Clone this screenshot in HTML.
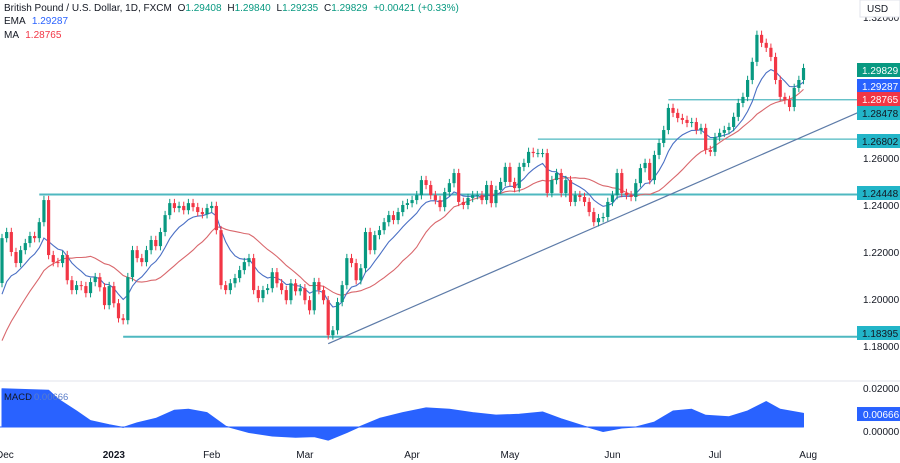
<!DOCTYPE html>
<html><head><meta charset="utf-8">
<style>
html,body{margin:0;padding:0;background:#fff;width:900px;height:463px;overflow:hidden;font-family:"Liberation Sans",sans-serif;}
svg{display:block}
text{font-family:"Liberation Sans",sans-serif}
</style></head>
<body>
<svg id="chart" width="900" height="463" viewBox="0 0 900 463" xmlns="http://www.w3.org/2000/svg">
  <g id="price-pane"></g>
  <g id="macd-pane"></g>
  <g id="axes"></g>
  <g id="legend">
    <text x="4" y="11" font-size="10" fill="#131722">British Pound / U.S. Dollar, 1D, FXCM <tspan dx="3" fill="#131722">O</tspan><tspan fill="#089981">1.29408</tspan> <tspan dx="3" fill="#131722">H</tspan><tspan fill="#089981">1.29840</tspan> <tspan dx="3" fill="#131722">L</tspan><tspan fill="#089981">1.29235</tspan> <tspan dx="3" fill="#131722">C</tspan><tspan fill="#089981">1.29829</tspan> <tspan dx="3" fill="#089981">+0.00421 (+0.33%)</tspan></text>
    <text x="4" y="24" font-size="10" fill="#131722">EMA <tspan fill="#2962ff" dx="4">1.29287</tspan></text>
    <text x="4" y="38" font-size="10" fill="#131722">MA <tspan fill="#f23645" dx="4">1.28765</tspan></text>
  </g>
</svg>
<script>
// ---- data ----
const priorCloses = [1.135,1.140,1.145,1.150,1.155,1.160,1.165,1.170,1.175,1.180,1.185,1.190,1.195,1.200,1.200,1.205,1.200,1.205,1.200,1.200];
const firstOpen = 1.2068;
const closes = [
1.2259,1.2285,1.2200,1.2153,1.2208,1.2238,1.2268,1.2259,1.2327,1.2421,
1.2187,1.2157,1.2153,1.2187,1.2080,1.2038,1.2059,1.2055,1.2025,1.2072,
1.2093,1.2050,1.1974,1.2055,1.1982,1.1918,1.1910,1.2093,1.2208,1.2174,
1.2157,1.2208,1.2251,1.2225,1.2285,1.2357,1.2408,1.2387,1.2396,1.2378,
1.2408,1.2391,1.2370,1.2361,1.2387,1.2396,1.2293,1.2059,1.2038,1.2067,
1.2089,1.2123,1.2157,1.2174,1.2038,1.2004,1.2038,1.2046,1.2114,1.2067,
1.2038,1.1995,1.2067,1.2033,1.2046,1.1995,1.1952,1.2072,1.2038,1.1995,
1.1846,1.1867,1.1987,1.2059,1.2174,1.2153,1.2080,1.2131,1.2285,1.2208,
1.2272,1.2293,1.2327,
1.2357,1.2336,1.2370,1.2400,1.2408,1.2421,1.2442,1.2506,1.2485,1.2442,
1.2421,1.2391,1.2455,1.2493,1.2536,1.2413,1.2400,1.2430,1.2442,1.2442,
1.2421,1.2485,1.2408,1.2464,1.2498,1.2562,1.2498,1.2472,1.2562,1.2579,
1.2626,1.2621,1.2621,1.2621,1.2451,1.2506,1.2536,1.2451,1.2506,1.2413,
1.2442,1.2434,1.2413,1.2370,1.2327,1.2344,1.2349,1.2413,1.2442,1.2536,
1.2451,1.2442,1.2434,1.2493,1.2557,1.2579,1.2506,1.2613,1.2664,1.2719,
1.2813,1.2792,1.2770,1.2762,1.2749,1.2753,1.2719,1.2728,1.2634,1.2626,
1.2689,1.2707,1.2719,1.2732,1.2775,1.2834,1.2860,
1.2932,1.3009,1.3124,1.3090,1.3069,1.3030,1.2932,1.2860,1.2847,1.2817,
1.2898,1.2932,1.2983];
const macdIdx = [0,10,12,16,19,23,26,29,33,37,40,44,48,53,58,63,67,70,74,77,81,86,91,96,101,106,111,116,120,125,129,133,136,140,144,148,151,156,160,164,167,172];
const macdVals = [0.0196,0.0188,0.0144,0.0082,0.0033,0.0012,-0.0002,0.0021,0.0044,0.0086,0.0091,0.0074,0.0004,-0.0028,-0.0046,-0.0053,-0.0049,-0.0067,-0.0028,0.0004,0.0044,0.0074,0.0098,0.0091,0.0074,0.0061,0.0065,0.0077,0.0042,0.0004,-0.0023,-0.0005,0.0000,0.0025,0.0082,0.0091,0.0060,0.0053,0.0082,0.0130,0.0091,0.0070];
const priceTicks = [1.32,1.26,1.24,1.22,1.20,1.18];
const priceTickLabels = ["1.32000","1.26000","1.24000","1.22000","1.20000","1.18000"];
const monthIdx = [24,45,65,88,109,131,153,173];
const monthLabels = ["2023","Feb","Mar","Apr","May","Jun","Jul","Aug"];
const levels = [1.24448,1.18395,1.26802,1.28478];
const levelStartIdx = [8,26,115,143];
const trendStart = {i:70,p:1.1810}; const trendEnd = {i:184,p:1.2796};

// ---- scales ----
const NS='http://www.w3.org/2000/svg';
const xOf = i => 2 + i*4.66;
const yOf = p => 158 - (p-1.26)*2350;
const myOf = v => 427 - v*1950;
function mk(tag, attrs, parent){const e=document.createElementNS(NS,tag);for(const k in attrs)e.setAttribute(k,attrs[k]);parent.appendChild(e);return e;}
const pp=document.getElementById('price-pane'), mp=document.getElementById('macd-pane'), ax=document.getElementById('axes');

levels.forEach((lv,k)=>{
  const x0=xOf(levelStartIdx[k]), y=yOf(lv);
  const l=mk('line',{x1:x0,y1:y,x2:857,y2:y,stroke:'#4fb8c0','stroke-width':k<2?2:1.3},pp);
  
  
});
const tl=mk('line',{x1:xOf(trendStart.i),y1:yOf(trendStart.p),x2:xOf(trendEnd.i),y2:yOf(trendEnd.p),stroke:'#5d7ba8','stroke-width':1.2},pp);



const all = priorCloses.concat(closes);
const P = priorCloses.length;
let ema=[], e=priorCloses[0], kf=2/(9+1);
all.forEach((c,j)=>{e = j===0?c:c*kf+e*(1-kf); if(j>=P) ema.push(e);});
let sma=[];
for(let j=P;j<all.length;j++){let s=0;for(let q=j-19;q<=j;q++)s+=all[q];sma.push(s/20);}
const pathOf = arr => arr.map((v,i)=>(i?'L':'M')+xOf(i).toFixed(1)+','+yOf(v).toFixed(1)).join('');
const maPath=mk('path',{d:pathOf(sma),fill:'none',stroke:'#d9676c','stroke-width':1.1},pp);


const emaPath=mk('path',{d:pathOf(ema),fill:'none',stroke:'#4a6fc4','stroke-width':1.1},pp);



closes.forEach((c,i)=>{
  const o = i===0?firstOpen:closes[i-1];
  const up = c>=o, col = up?'#089981':'#f23645';
  const x=xOf(i), hi=Math.max(o,c)+0.0018, lo=Math.min(o,c)-0.0018;
  const g=mk('g',{},pp);
  
  
  mk('line',{x1:x,x2:x,y1:yOf(hi),y2:yOf(lo),stroke:col,'stroke-width':1},g);
  const yt=yOf(Math.max(o,c)), yb=yOf(Math.min(o,c));
  mk('rect',{x:x-1.6,y:yt,width:3.2,height:Math.max(1,yb-yt),fill:col},g);
});

mk('line',{x1:0,x2:900,y1:381,y2:381,stroke:'#e0e3eb','stroke-width':1},mp);
let d='M'+xOf(macdIdx[0])+','+myOf(0);
macdIdx.forEach((ix,k)=>{d+='L'+xOf(ix).toFixed(1)+','+myOf(macdVals[k]).toFixed(1);});
d+='L'+xOf(macdIdx[macdIdx.length-1]).toFixed(1)+','+myOf(0)+'Z';
const ma=mk('path',{d:d,fill:'#2962ff',stroke:'#2962ff','stroke-width':1,'stroke-linejoin':'round'},mp);


const zl=mk('line',{x1:0,x2:xOf(172),y1:myOf(0),y2:myOf(0),stroke:'#2962ff','stroke-width':1},mp);


const mt=mk('text',{x:4,y:400,'font-size':9.5,fill:'#131722'},mp);
mt.textContent='MACD';


const mv=mk('text',{x:34,y:400,'font-size':9.5,fill:'#5b7ec9'},mp);
mv.textContent='0.00666';



priceTicks.forEach((p,k)=>{
  const t=mk('text',{x:863,y:yOf(p)+4,'font-size':10,fill:'#131722'},ax);
  t.textContent=priceTickLabels[k];
  
  
});
const boxes=[["1.29829",70,'#089981'],["1.29287",86,'#2962ff'],["1.28765",99,'#f23645'],["1.28478",113,'#22b5c8'],["1.26802",141,'#22b5c8'],["1.24448",193,'#22b5c8'],["1.18395",333,'#22b5c8']];
boxes.forEach(b=>{
  const g=mk('g',{},ax);
  
  
  mk('rect',{x:857,y:b[1]-7,width:43,height:14,fill:b[2]},g);
  const t=mk('text',{x:862,y:b[1]+4,'font-size':10,fill:b[2]==='#22b5c8'?'#131722':'#fff'},g);
  t.textContent=b[0];
});
const ub=mk('g',{},ax);


mk('rect',{x:860,y:0,width:40,height:17,fill:'#fff',stroke:'#e0e3eb'},ub);
const ut=mk('text',{x:867,y:12,'font-size':10,fill:'#131722'},ub);
ut.textContent='USD';
[["0.02000",myOf(0.02)+4,'#131722',null],["0.00666",myOf(0.00666)+4,'#fff','#2962ff'],["0.00000",myOf(0)+8,'#131722',null]].forEach(a=>{
  if(a[3]) mk('rect',{x:857,y:a[1]-11,width:43,height:14,fill:a[3]},ax);
  const t=mk('text',{x:863,y:a[1],'font-size':10,fill:a[2]},ax);
  t.textContent=a[0];
  
  
});
const dt=mk('text',{x:-4,y:458,'font-size':10,fill:'#131722'},ax);
dt.textContent='Dec';


monthIdx.forEach((ix,k)=>{
  const t=mk('text',{x:xOf(ix),y:458,'font-size':10,fill:'#131722','text-anchor':'middle','font-weight':k===0?'bold':'normal'},ax);
  t.textContent=monthLabels[k];
  
  
});
</script>
</body></html>
